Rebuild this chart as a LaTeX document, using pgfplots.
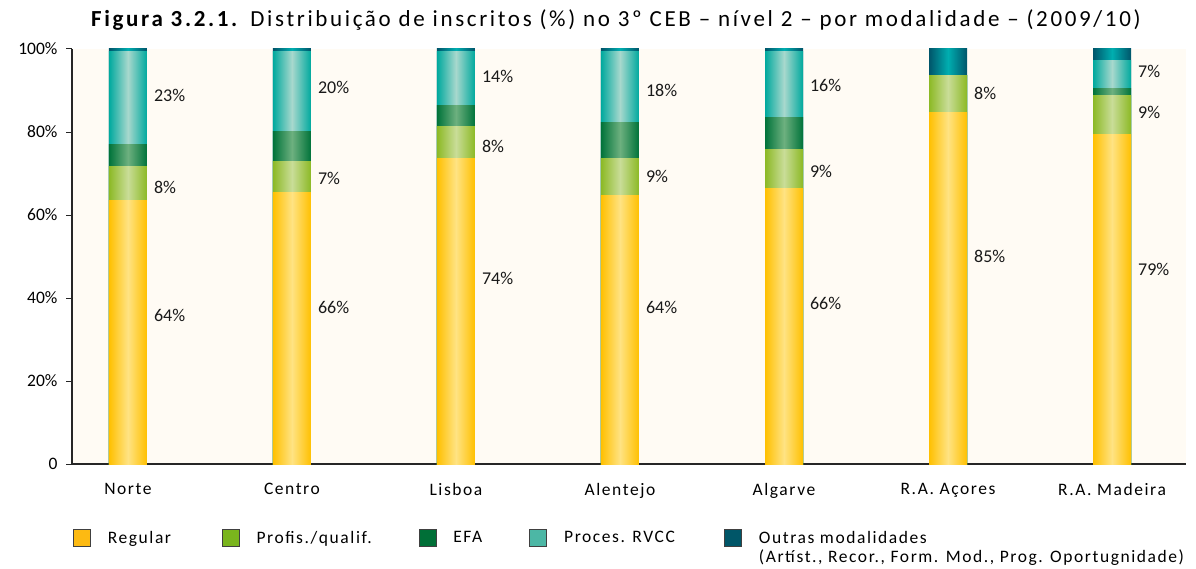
\documentclass[border=0pt]{standalone}
\usepackage{fontspec}
\setmainfont{Carlito}
\newfontfamily\spaced{Carlito}[LetterSpace=9]
\newfontfamily\titlefont{Carlito}[LetterSpace=11.5]
\usepackage{pgfplots}
\usepackage{pgfplotstable}
\pgfplotsset{compat=1.18}

\definecolor{regE}{HTML}{FFC000}
\definecolor{regM}{HTML}{FFE383}
\definecolor{proE}{HTML}{8CB925}
\definecolor{proM}{HTML}{C9DD98}
\definecolor{efaE}{HTML}{00733A}
\definecolor{efaM}{HTML}{6DB07F}
\definecolor{rvcE}{HTML}{00A99E}
\definecolor{rvcM}{HTML}{A8D8CD}
\definecolor{outE}{HTML}{00556A}
\definecolor{outM}{HTML}{00AEB0}
\definecolor{regL}{HTML}{FDBA12}
\definecolor{proL}{HTML}{7AB51D}
\definecolor{efaL}{HTML}{006F37}
\definecolor{rvcL}{HTML}{4CB7A5}
\definecolor{outL}{HTML}{005668}
\definecolor{bgc}{HTML}{FFFBF4}

\pgfplotsset{sqlegend/.style={legend image code/.code={\draw[##1] (0bp,-8.5bp) rectangle (17bp,8.5bp);}}}

% shares (%) per region and modality
\pgfplotstableread{
x reg pro efa rvc out
0 63.6 8.0 5.3 22.5 0.6
1 65.5 7.5 7.2 19.2 0.6
2 73.5 7.9 4.9 13.1 0.6
3 64.6 8.9 8.7 17.2 0.6
4 66.5 9.2 7.9 15.8 0.6
5 84.8 8.7 0 0 6.5
6 79.5 9.2 1.9 6.7 2.7
}\data
% cumulative tops of the segments
\pgfplotstablecreatecol[create col/expr={\thisrow{reg}}]{c1}\data
\pgfplotstablecreatecol[create col/expr={\thisrow{reg}+\thisrow{pro}}]{c2}\data
\pgfplotstablecreatecol[create col/expr={\thisrow{reg}+\thisrow{pro}+\thisrow{efa}}]{c3}\data
\pgfplotstablecreatecol[create col/expr={\thisrow{reg}+\thisrow{pro}+\thisrow{efa}+\thisrow{rvc}}]{c4}\data
\pgfplotstablecreatecol[create col/expr={\thisrow{reg}+\thisrow{pro}+\thisrow{efa}+\thisrow{rvc}+\thisrow{out}}]{c5}\data

% data labels: position and text
\pgfplotstableread{
x y v
0.158 35.9 64
0.158 66.7 8
0.158 88.9 23
1.158 37.8 66
1.158 68.7 7
1.158 90.8 20
2.158 44.6 74
2.158 76.6 8
2.158 93.3 14
3.158 37.8 64
3.158 69.2 9
3.158 89.9 18
4.158 38.8 66
4.158 70.6 9
4.158 91.1 16
5.158 50.1 85
5.158 89.2 8
6.158 47.0 79
6.158 84.6 9
6.158 94.7 7
}\labels

\pgfplotsset{seg/.style n args={3}{forget plot, ybar, bar width=38bp, bar shift=0pt, draw=none,
   left color=#2, right color=#2, middle color=#3, restrict x to domain=#1:#1}}

\begin{document}
\begin{tikzpicture}
\begin{axis}[
  scale only axis,
  width=1114bp, height=415bp,
  clip=false,
  xmin=-0.341, xmax=6.451,
  ymin=0, ymax=100,
  axis x line*=bottom,
  axis y line*=left,
  axis line style={black!85, line width=1.2bp},
  axis background/.style={fill=bgc},
  xtick={0,1,2,3,4,5,6},
  xticklabels={Norte,Centro,Lisboa,Alentejo,Algarve,R.A. Açores,R.A. Madeira},
  xtick style={draw=none},
  xticklabel style={font=\spaced\fontsize{17.5bp}{20bp}\selectfont, yshift=-10bp},
  ytick={0,20,40,60,80,100},
  yticklabels={0,20\%,40\%,60\%,80\%,100\%},
  ytick style={black!85, line width=1bp},
  tick align=outside,
  major tick length=6bp,
  yticklabel style={font=\fontsize{17.5bp}{20bp}\selectfont, xshift=-5bp},
  legend columns=5,
  legend style={at={(0,0)}, anchor=north west, xshift=1bp, yshift=-65bp,
    inner sep=0pt, outer sep=0pt, draw=none, fill=none,
    font=\spaced\fontsize{17.5bp}{20bp}\selectfont,
    /tikz/every odd column/.append style={column sep=15bp}},
  legend cell align=left,
  legend image post style={draw=black!75, line width=0.8bp},
]
\pgfplotsinvokeforeach{0,1,2,3,4,5,6}{
  \addplot[seg={#1}{outE}{outM}] table[x=x,y=c5]{\data};
  \addplot[seg={#1}{rvcE}{rvcM}] table[x=x,y=c4]{\data};
  \addplot[seg={#1}{efaE}{efaM}] table[x=x,y=c3]{\data};
  \addplot[seg={#1}{proE}{proM}] table[x=x,y=c2]{\data};
  \addplot[seg={#1}{regE}{regM}] table[x=x,y=c1]{\data};
}

\addplot[forget plot, only marks, mark=*, mark size=0pt,
  mark options={draw=none, fill=none},
  point meta=explicit symbolic,
  nodes near coords={\pgfplotspointmeta\%},
  nodes near coords style={anchor=west, inner sep=0pt, font=\fontsize{18bp}{20bp}\selectfont, text=black!90}]
  table[x=x,y=y,meta=v]{\labels};

\addlegendimage{sqlegend, fill=regL}
\addlegendentry{\makebox[112bp][l]{Regular}}
\addlegendimage{sqlegend, fill=proL}
\addlegendentry{\makebox[160bp][l]{Profis./qualif.}}
\addlegendimage{sqlegend, fill=efaL}
\addlegendentry{\makebox[74bp][l]{EFA}}
\addlegendimage{sqlegend, fill=rvcL}
\addlegendentry{\makebox[158bp][l]{Proces. RVCC}}
\addlegendimage{sqlegend, fill=outL}
\addlegendentry{\rlap{\smash{\raisebox{-19bp}{(Artíst., Recor., Form. Mod., Prog. Oportugnidade)}}}Outras modalidades}

\node[anchor=base, font=\titlefont\fontsize{23bp}{25bp}\selectfont, text=black] at ([yshift=22bp]rel axis cs:0.4883,1)
  {\textbf{Figura 3.2.1.} Distribuição de inscritos (\%) no 3º CEB – nível 2 – por modalidade – (2009/10)};
\coordinate (ll) at (rel axis cs:0,0);
\coordinate (ur) at (rel axis cs:1,1);
\end{axis}
\path ([shift={(-72bp,-104bp)}]ll) rectangle ([shift={(10bp,49bp)}]ur);
\end{tikzpicture}
\end{document}
